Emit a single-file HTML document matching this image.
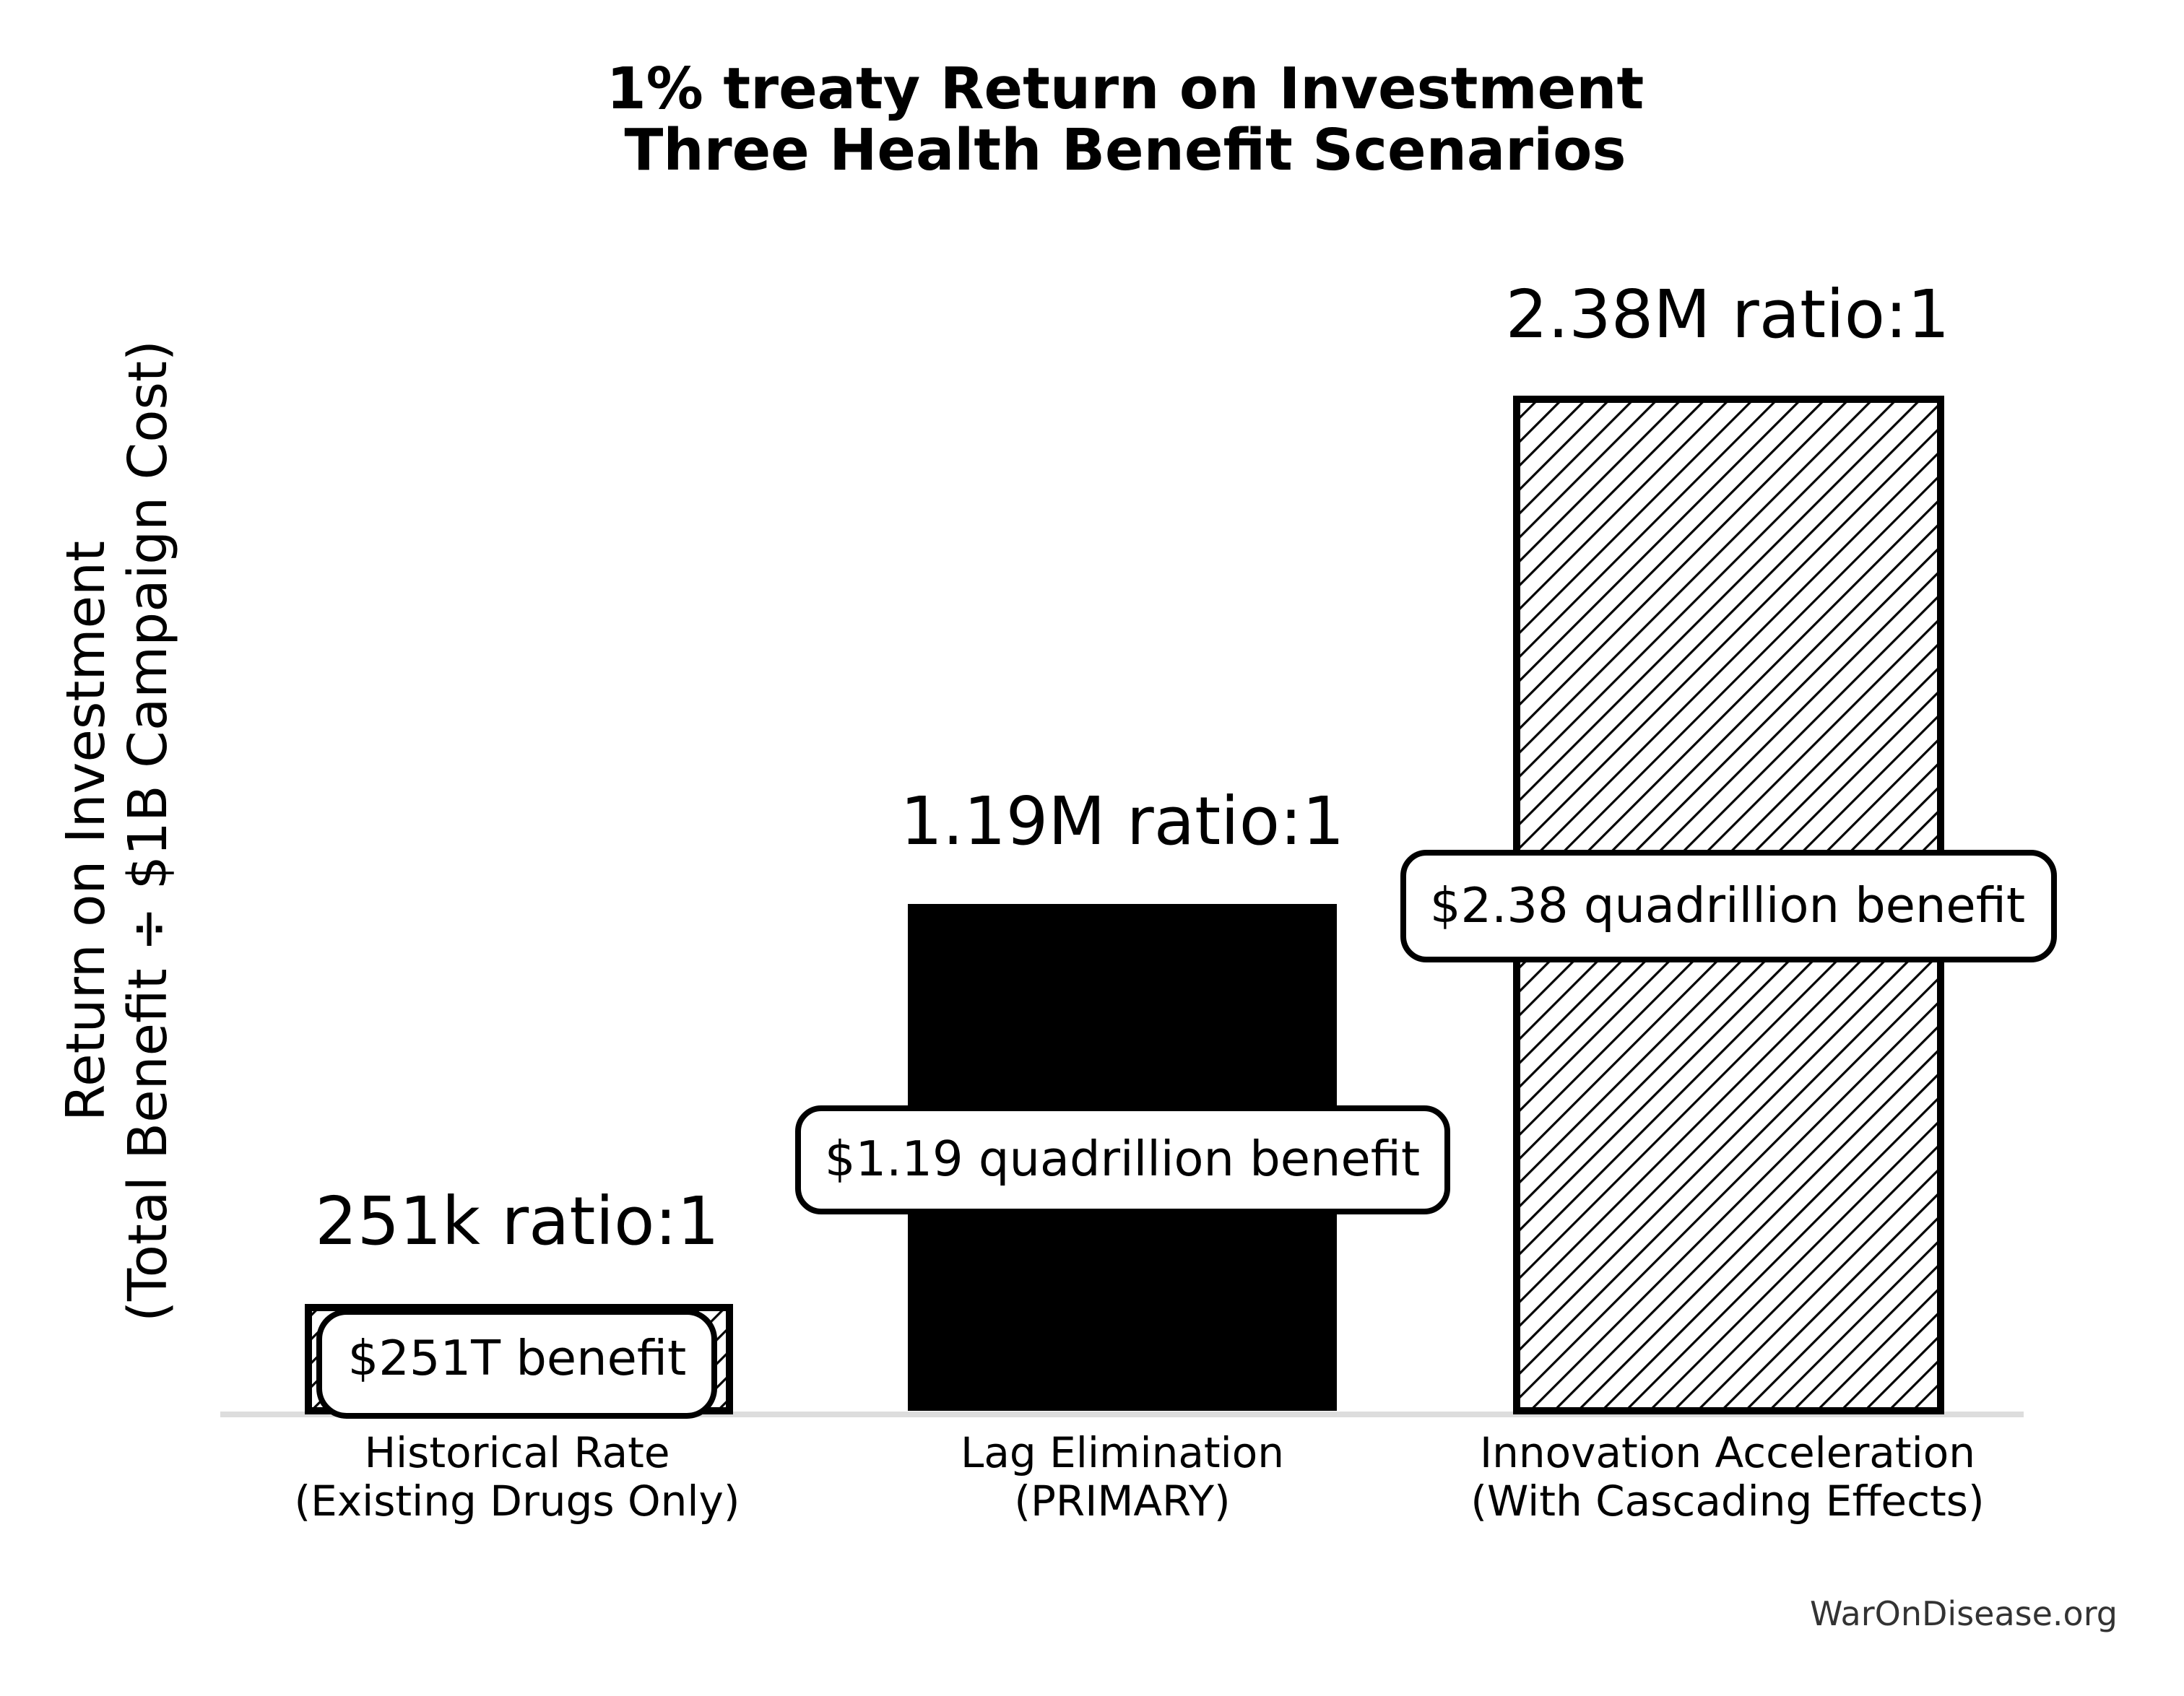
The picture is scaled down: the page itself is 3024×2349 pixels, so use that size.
<!DOCTYPE html>
<html><head><meta charset="utf-8"><style>
html,body{margin:0;padding:0;background:#fff;}
svg{display:block;}
text{font-family:"DejaVu Sans","Liberation Sans",sans-serif;fill:#000;}
</style></head><body>
<svg width="3024" height="2349" viewBox="0 0 3024 2349" xmlns="http://www.w3.org/2000/svg">
<defs>
<pattern id="h" patternUnits="userSpaceOnUse" width="23.4" height="23.4" patternTransform="rotate(45)">
<rect x="0" y="0" width="3.2" height="23.4" fill="#000"/>
</pattern>
</defs>
<rect width="3024" height="2349" fill="#fff"/>
<text x="1558" y="150" font-size="79" font-weight="bold" text-anchor="middle">1% treaty Return on Investment</text>
<text x="1558" y="235" font-size="79" font-weight="bold" text-anchor="middle">Three Health Benefit Scenarios</text>

<g transform="translate(144,1151) rotate(-90)"><text x="0" y="0" font-size="74" text-anchor="middle">Return on Investment</text></g>
<g transform="translate(230,1151) rotate(-90)"><text x="0" y="0" font-size="74" text-anchor="middle">(Total Benefit ÷ $1B Campaign Cost)</text></g>

<line x1="305" y1="1959" x2="2802" y2="1959" stroke="#dddddd" stroke-width="8"/>

<rect x="427" y="1811" width="583" height="143" fill="url(#h)" stroke="#000" stroke-width="10"/>
<rect x="1257" y="1252" width="594" height="702" fill="#000"/>
<rect x="2100" y="553" width="587" height="1401" fill="url(#h)" stroke="#000" stroke-width="10"/>

<text x="716" y="1723" font-size="92" text-anchor="middle">251k ratio:1</text>
<text x="1554" y="1169" font-size="92" text-anchor="middle">1.19M ratio:1</text>
<text x="2392" y="467" font-size="92" text-anchor="middle">2.38M ratio:1</text>

<rect x="442" y="1817" width="547" height="144" rx="38" fill="#fff" stroke="#000" stroke-width="8"/>
<text x="716" y="1904" font-size="67" text-anchor="middle">$251T benefit</text>
<rect x="1105" y="1535" width="899" height="143" rx="32" fill="#fff" stroke="#000" stroke-width="8"/>
<text x="1554" y="1628" font-size="67" text-anchor="middle">$1.19 quadrillion benefit</text>
<rect x="1943" y="1181" width="901" height="148" rx="32" fill="#fff" stroke="#000" stroke-width="8"/>
<text x="2392" y="1277" font-size="67" text-anchor="middle">$2.38 quadrillion benefit</text>

<g font-size="58" text-anchor="middle">
<text x="716" y="2032">Historical Rate</text>
<text x="716" y="2099">(Existing Drugs Only)</text>
<text x="1554" y="2032">Lag Elimination</text>
<text x="1554" y="2099">(PRIMARY)</text>
<text x="2392" y="2032">Innovation Acceleration</text>
<text x="2392" y="2099">(With Cascading Effects)</text>
</g>
<text x="2932" y="2251" font-size="46" text-anchor="end" style="fill:#333">WarOnDisease.org</text>
</svg>
</body></html>
